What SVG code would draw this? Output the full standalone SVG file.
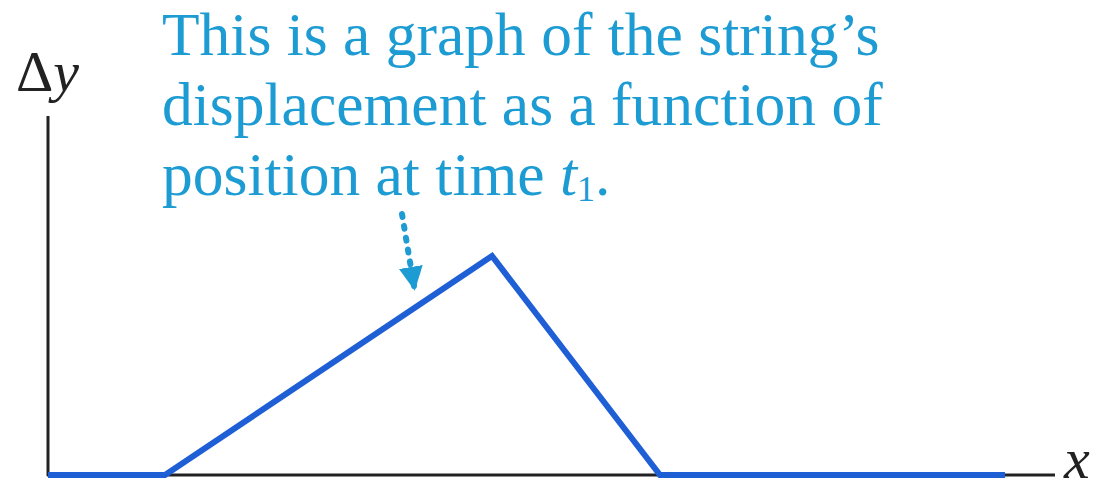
<svg xmlns="http://www.w3.org/2000/svg" width="1103" height="491" viewBox="0 0 1103 491">
<style>
.cap{font-family:"Liberation Serif",serif;font-size:61.5px;fill:#1d9bd3}
.ax{font-family:"Liberation Serif",serif;font-size:58px;fill:#222}
</style>
<defs>
<marker id="ah" viewBox="0 0 10 10" refX="8" refY="5" markerWidth="4" markerHeight="4" orient="auto">
<path d="M0,0 L10,5 L0,10 z" fill="#1d9bd3"/>
</marker>
</defs>
<rect width="1103" height="491" fill="#fff"/>
<g id="axes">
<line x1="48" y1="116" x2="48" y2="476" stroke="#222" stroke-width="3"/>
<line x1="47" y1="475" x2="1055" y2="475" stroke="#222" stroke-width="3"/>
<text class="ax" x="16" y="91">Δ<tspan font-style="italic">y</tspan></text>
<text class="ax" x="1064" y="478" font-size="50" font-style="italic">x</text>
</g>
<g id="wave">
<polyline points="48,475 165,475 492,256 660,475 1005,475" fill="none" stroke="#1f5fd6" stroke-width="6" stroke-linejoin="miter"/>
</g>
<g id="caption">
<text class="cap" x="162" y="55">This is a graph of the string’s</text>
<text class="cap" x="162" y="125">displacement as a function of</text>
<text class="cap" x="162" y="195">position at time <tspan font-style="italic">t</tspan><tspan font-size="36" dy="6">1</tspan><tspan dy="-6">.</tspan></text>
</g>
<g id="connectors">
<line x1="402" y1="214" x2="414" y2="286" stroke="#1d9bd3" stroke-width="6" stroke-dasharray="3,9" stroke-linecap="round" marker-end="url(#ah)"/>
</g>
</svg>
